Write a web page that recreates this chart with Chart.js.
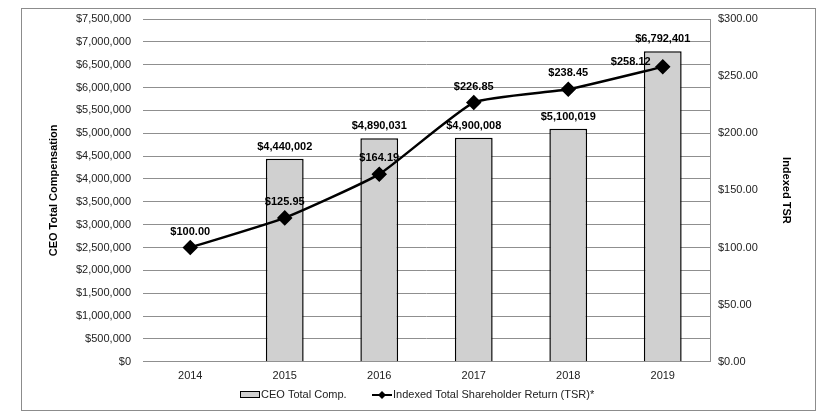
<!DOCTYPE html>
<html>
<head>
<meta charset="utf-8">
<script src="https://cdn.jsdelivr.net/npm/chart.js@4"></script>
<style>
  html, body { margin: 0; padding: 0; background: #fff; }
  #wrap { width: 829px; height: 414px; }
</style>
</head>
<body>
<div id="wrap"><canvas id="grafico" width="829" height="414"></canvas></div>
<script>
// datos
const anios = ['2014', '2015', '2016', '2017', '2018', '2019'];
const compensacion = [null, 4440002, 4890031, 4900008, 5100019, 6792401];
const tsr = [100.00, 125.95, 164.19, 226.85, 238.45, 258.12];
const etiquetaComp = 'CEO Total Comp.';
const etiquetaTsr = 'Indexed Total Shareholder Return (TSR)*';

const FUENTE = '"Liberation Sans", Arial, sans-serif';
const GRIS_GRID = '#8f8f8f';
const TEXTO = '#222222';

const fmtDolar = v => '$' + Math.round(v).toLocaleString('en-US');
const fmtTsr = v => '$' + Number(v).toFixed(2);

// marco exterior
const marco = {
    id: 'marco',
    beforeDraw(chart) {
        const ctx = chart.ctx;
        ctx.save();
        ctx.fillStyle = '#fff';
        ctx.fillRect(0, 0, chart.width, chart.height);
        ctx.strokeStyle = '#8c8c8c';
        ctx.lineWidth = 1;
        ctx.strokeRect(21.5, 8.5, 794, 402);
        ctx.restore();
    }
};

// etiquetas de valores encima de barras y puntos
const etiquetas = {
    id: 'etiquetas',
    afterDatasetsDraw(chart) {
        const ctx = chart.ctx;
        ctx.save();
        ctx.font = 'bold 11px ' + FUENTE;
        ctx.fillStyle = '#000';
        ctx.textAlign = 'center';
        ctx.textBaseline = 'middle';

        chart.getDatasetMeta(0).data.forEach((bar, i) => {
            if (compensacion[i] == null) return;
            ctx.fillText(fmtDolar(compensacion[i]), bar.x, bar.y - 12);
        });

        const metaLinea = chart.getDatasetMeta(1);
        metaLinea.data.forEach((pt, i) => {
            let dx = 0, dy = -16;
            if (i === metaLinea.data.length - 1) { dx = -32; dy = -5; }
            ctx.fillText(fmtTsr(tsr[i]), pt.x + dx, pt.y + dy);
        });
        ctx.restore();
    }
};

// leyenda dibujada a mano (linea con rombo)
const leyenda = {
    id: 'leyenda',
    afterDraw(chart) {
        const ctx = chart.ctx;
        const y = 395;
        ctx.save();
        ctx.font = '11px ' + FUENTE;
        ctx.fillStyle = TEXTO;
        ctx.textBaseline = 'middle';
        ctx.textAlign = 'left';

        let x = 240;
        ctx.fillStyle = '#d0d0d0';
        ctx.fillRect(x, y - 3, 19, 6);
        ctx.strokeStyle = '#000';
        ctx.lineWidth = 1;
        ctx.strokeRect(x + 0.5, y - 3.5, 19, 6);
        ctx.fillStyle = TEXTO;
        ctx.fillText(etiquetaComp, x + 21, y);

        x = 372;
        ctx.strokeStyle = '#000';
        ctx.lineWidth = 2;
        ctx.beginPath();
        ctx.moveTo(x, y);
        ctx.lineTo(x + 20, y);
        ctx.stroke();
        ctx.fillStyle = '#000';
        ctx.beginPath();
        ctx.moveTo(x + 10, y - 4);
        ctx.lineTo(x + 14, y);
        ctx.lineTo(x + 10, y + 4);
        ctx.lineTo(x + 6, y);
        ctx.closePath();
        ctx.fill();
        ctx.fillStyle = TEXTO;
        ctx.fillText(etiquetaTsr, x + 21, y);
        ctx.restore();
    }
};

Chart.defaults.font.family = FUENTE;
Chart.defaults.font.size = 11;
Chart.defaults.color = TEXTO;

new Chart(document.getElementById('grafico').getContext('2d'), {
    data: {
        labels: anios,
        datasets: [
            {
                type: 'bar',
                label: etiquetaComp,
                data: compensacion,
                yAxisID: 'y',
                backgroundColor: '#d0d0d0',
                borderColor: '#000',
                borderWidth: 1.5,
                categoryPercentage: 1,
                barPercentage: 0.4,
                order: 2
            },
            {
                type: 'line',
                label: etiquetaTsr,
                data: tsr,
                yAxisID: 'y1',
                borderColor: '#000',
                backgroundColor: '#000',
                borderWidth: 2.5,
                tension: 0.15,
                pointStyle: 'rectRot',
                pointRadius: 6,
                pointHoverRadius: 6,
                order: 1
            }
        ]
    },
    options: {
        responsive: false,
        animation: false,
        layout: { padding: { left: 47, right: 36, top: 19, bottom: 31 } },
        plugins: {
            legend: { display: false },
            tooltip: { enabled: false }
        },
        scales: {
            x: {
                grid: { display: false },
                border: { display: true, color: GRIS_GRID },
                ticks: { padding: 0, color: TEXTO }
            },
            y: {
                position: 'left',
                min: 0,
                max: 7500000,
                ticks: { stepSize: 500000, callback: v => fmtDolar(v), padding: 12, color: TEXTO },
                grid: { color: GRIS_GRID, drawTicks: false },
                border: { display: false },
                title: { display: true, text: 'CEO Total Compensation', font: { weight: 'bold', size: 11 }, color: '#000', padding: 0 },
                afterFit: s => { s.width = 96; }
            },
            y1: {
                position: 'right',
                min: 0,
                max: 300,
                ticks: { stepSize: 50, callback: v => fmtTsr(v), padding: 3, color: TEXTO },
                grid: { display: false, drawOnChartArea: false, drawTicks: true, tickLength: 5, color: GRIS_GRID },
                border: { display: true, color: GRIS_GRID },
                title: { display: true, text: 'Indexed TSR', font: { weight: 'bold', size: 11 }, color: '#000', padding: 0 },
                afterFit: s => { s.width = 83; }
            }
        }
    },
    plugins: [marco, etiquetas, leyenda]
});
</script>
</body>
</html>
